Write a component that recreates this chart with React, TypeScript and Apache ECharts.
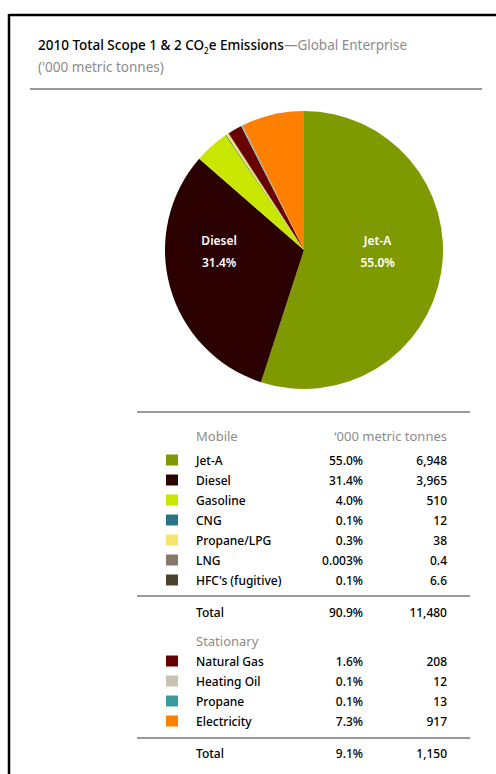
import React, { useEffect, useRef } from 'react';
import * as echarts from 'echarts';

const mobileNames = ['Jet-A', 'Diesel', 'Gasoline', 'CNG', 'Propane/LPG', 'LNG', "HFC's (fugitive)"];
const mobileValues = [6948, 3965, 510, 12, 38, 0.4, 6.6];
const mobilePercents = ['55.0%', '31.4%', '4.0%', '0.1%', '0.3%', '0.003%', '0.1%'];
const mobileValueLabels = ['6,948', '3,965', '510', '12', '38', '0.4', '6.6'];
const mobileColors = ['#7f9a00', '#2b0000', '#c8e600', '#2b7488', '#f7e46c', '#857968', '#4d4230'];

const stationaryNames = ['Natural Gas', 'Heating Oil', 'Propane', 'Electricity'];
const stationaryValues = [208, 12, 13, 917];
const stationaryPercents = ['1.6%', '0.1%', '0.1%', '7.3%'];
const stationaryValueLabels = ['208', '12', '13', '917'];
const stationaryColors = ['#680000', '#c9c3b3', '#3a9c9c', '#ff8000'];

const totalLabels = ['Total', 'Total'];
const totalPercents = ['90.9%', '9.1%'];
const totalValues = ['11,480', '1,150'];

const pieLabelNames = ['Jet-A', 'Diesel'];

const FONT = "'Noto Sans', sans-serif";
const W = 500;

export default function App() {
  const ref = useRef<HTMLDivElement>(null);

  useEffect(() => {
    if (!ref.current) return;
    const chart = echarts.init(ref.current, undefined, { renderer: 'svg' });

    const names = [...mobileNames, ...stationaryNames];
    const values = [...mobileValues, ...stationaryValues];
    const colors = [...mobileColors, ...stationaryColors];
    const pcts = [...mobilePercents, ...stationaryPercents];
    const vals = [...mobileValueLabels, ...stationaryValueLabels];

    const labelOffsets: Record<string, number[]> = { 'Jet-A': [2, -10], Diesel: [-15, -18] };

    const pieData = names.map((n, i) => ({
      name: n,
      value: values[i],
      itemStyle: { color: colors[i] },
      label: {
        show: pieLabelNames.includes(n),
        offset: labelOffsets[n] || [0, 0],
      },
    }));

    const rich = {
      g: { width: 13, fontSize: 12, fontFamily: FONT },
      n: { width: 110, fontSize: 12, fontFamily: FONT, color: '#000', fontWeight: W },
      p: { width: 57, align: 'right', fontSize: 12, fontFamily: FONT, color: '#000', fontWeight: W },
      v: { width: 84, align: 'right', fontSize: 12, fontFamily: FONT, color: '#000', fontWeight: W },
    };

    const fmt = (name: string) => {
      const i = names.indexOf(name);
      return `{g| }{n|${name}}{p|${pcts[i]}}{v|${vals[i]}}`;
    };

    const legendBase = {
      orient: 'vertical',
      left: 166,
      itemWidth: 12,
      itemHeight: 11,
      itemGap: 8,
      padding: 0,
      icon: 'rect',
      selectedMode: false,
      formatter: fmt,
      textStyle: { rich, fontFamily: FONT, fontSize: 12, color: '#000' },
    };

    const grayLine = (x1: number, y1: number, x2: number) => ({
      type: 'line',
      shape: { x1, y1, x2, y2: y1 },
      style: { stroke: '#9a9a9a', lineWidth: 2 },
    });

    const txt = (text: string, x: number, y: number, color: string, align = 'left', weight: any = 'normal', size = 12) => ({
      type: 'text',
      x,
      y,
      style: { text, fill: color, fontSize: size, fontFamily: FONT, align, verticalAlign: 'middle', fontWeight: weight },
    });

    const option = {
      animation: false,
      legend: [
        { ...legendBase, top: 454, data: mobileNames },
        { ...legendBase, top: 655, data: stationaryNames },
      ],
      series: [
        {
          type: 'pie',
          center: [304, 250],
          radius: [0, 139],
          startAngle: 90,
          clockwise: true,
          data: pieData,
          emphasis: { disabled: true },
          labelLine: { show: false },
          label: {
            position: 'inside',
            color: '#fff',
            fontSize: 12,
            lineHeight: 22,
            fontFamily: FONT,
            fontWeight: 600,
            formatter: (p: any) => `${p.name}\n${p.percent.toFixed(1)}%`,
          },
        },
      ],
      graphic: [
        { type: 'line', shape: { x1: 9, y1: 15, x2: 496, y2: 15 }, style: { stroke: '#000', lineWidth: 2.5 } },
        { type: 'line', shape: { x1: 9, y1: 14, x2: 9, y2: 774 }, style: { stroke: '#000', lineWidth: 2.5 } },
        {
          type: 'text',
          x: 38,
          y: 36,
          style: {
            text: '{a|2010 Total Scope 1 & 2 CO}{s|2}{a|e Emissions}{b|—Global Enterprise}',
            rich: {
              a: { fontSize: 13.5, fontFamily: FONT, fill: '#000', lineHeight: 18, fontWeight: W },
              s: { fontSize: 8, fontFamily: FONT, fill: '#000', verticalAlign: 'bottom', fontWeight: W },
              b: { fontSize: 13.5, fontFamily: FONT, fill: '#8c8c8c', lineHeight: 18 },
            },
          },
        },
        {
          type: 'text',
          x: 38,
          y: 67,
          style: { text: "('000 metric tonnes)", fill: '#8c8c8c', fontSize: 13.5, fontFamily: FONT, verticalAlign: 'middle' },
        },
        grayLine(30, 89, 482),
        grayLine(137, 412, 470),
        grayLine(137, 596, 470),
        grayLine(137, 738, 470),
        txt('Mobile', 196, 436, '#8c8c8c', 'left', 'normal', 13),
        txt('‘000 metric tonnes', 447, 436, '#8c8c8c', 'right', 'normal', 13),
        txt(totalLabels[0], 196, 612, '#000', 'left', W),
        txt(totalPercents[0], 363, 612, '#000', 'right', W),
        txt(totalValues[0], 447, 612, '#000', 'right', W),
        txt('Stationary', 196, 641, '#8c8c8c', 'left', 'normal', 13),
        txt(totalLabels[1], 196, 753, '#000', 'left', W),
        txt(totalPercents[1], 363, 753, '#000', 'right', W),
        txt(totalValues[1], 447, 753, '#000', 'right', W),
      ],
    };

    chart.setOption(option as any);
    return () => chart.dispose();
  }, []);

  return (
    <div
      ref={ref}
      style={{ position: 'fixed', left: 0, top: 0, width: 496, height: 774, background: '#fff' }}
    />
  );
}
